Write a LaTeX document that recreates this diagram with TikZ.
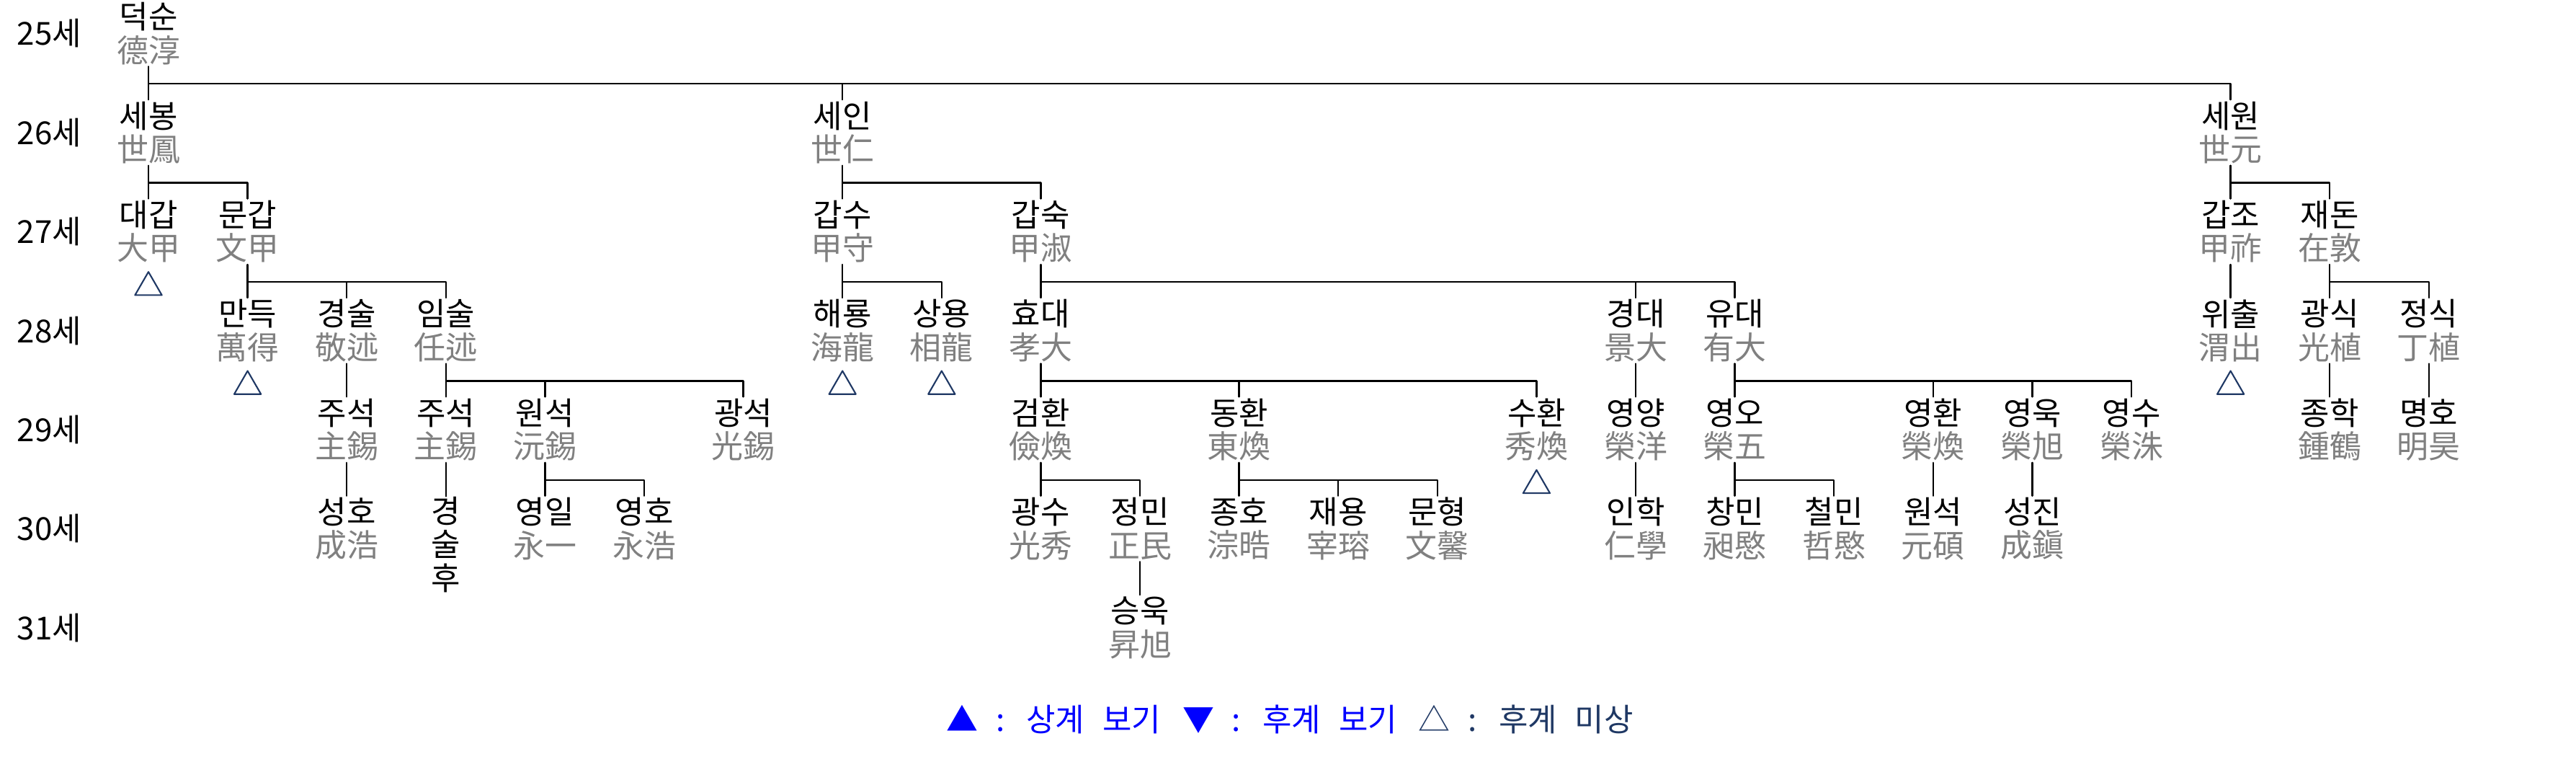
\documentclass[tikz,border=0pt]{standalone}
\usepackage{fontspec}
\setmainfont{Noto Sans CJK KR}
\usetikzlibrary{positioning,shapes.geometric}
\definecolor{hanjagray}{RGB}{128,128,128}
\definecolor{navy}{RGB}{31,56,100}
\definecolor{legendblue}{RGB}{0,0,255}
\newcommand{\hj}[1]{\textcolor{hanjagray}{#1}}
\def\barh{0.24cm}

\begin{document}
\begin{tikzpicture}[line join=round,line cap=round,x=1.376cm,y=-1.374cm,
	font=\fontsize{12.5pt}{13.2pt}\selectfont,
	person/.style={align=center,inner sep=0pt,minimum height=0.9cm},
	link/.style={line width=0.65pt,draw=black},
	tri/.style={draw=navy,line width=0.6pt,regular polygon,regular polygon sides=3,minimum size=0.43cm,inner sep=0pt}]
		\useasboundingbox (-2.06cm,0.465cm) rectangle (33.69cm,-10.345cm);
		% generations
		\node (gen25) at (-1,0) {25세};
		\node (gen26) at (-1,1) {26세};
		\node (gen27) at (-1,2) {27세};
		\node (gen28) at (-1,3) {28세};
		\node (gen29) at (-1,4) {29세};
		\node (gen30) at (-1,5) {30세};
		\node (gen31) at (-1,6) {31세};
		% 25
		\node[person] (deoksun) at (0,0) {덕순\\\hj{德淳}};
		% 26
		\node[person] (sebong) at (0,1) {세봉\\\hj{世鳳}};
		\node[person] (sein) at (7,1) {세인\\\hj{世仁}};
		\node[person] (sewon) at (21,1) {세원\\\hj{世元}};
		% 27
		\node[person] (daegap) at (0,2) {대갑\\\hj{大甲}};
		\node[person] (mungap) at (1,2) {문갑\\\hj{文甲}};
		\node[person] (gapsu) at (7,2) {갑수\\\hj{甲守}};
		\node[person] (gapsuk) at (9,2) {갑숙\\\hj{甲淑}};
		\node[person] (gapjo) at (21,2) {갑조\\\hj{甲祚}};
		\node[person] (jaedon) at (22,2) {재돈\\\hj{在敦}};
		% 28
		\node[person] (mandeuk) at (1,3) {만득\\\hj{萬得}};
		\node[person] (gyeongsul) at (2,3) {경술\\\hj{敬述}};
		\node[person] (imsul) at (3,3) {임술\\\hj{任述}};
		\node[person] (haeryong) at (7,3) {해룡\\\hj{海龍}};
		\node[person] (sangyong) at (8,3) {상용\\\hj{相龍}};
		\node[person] (hyodae) at (9,3) {효대\\\hj{孝大}};
		\node[person] (gyeongdae) at (15,3) {경대\\\hj{景大}};
		\node[person] (yudae) at (16,3) {유대\\\hj{有大}};
		\node[person] (wichul) at (21,3) {위출\\\hj{渭出}};
		\node[person] (gwangsik) at (22,3) {광식\\\hj{光植}};
		\node[person] (jeongsik) at (23,3) {정식\\\hj{丁植}};
		% 29
		\node[person] (juseokA) at (2,4) {주석\\\hj{主錫}};
		\node[person] (juseokB) at (3,4) {주석\\\hj{主錫}};
		\node[person] (wonseokA) at (4,4) {원석\\\hj{沅錫}};
		\node[person] (gwangseok) at (6,4) {광석\\\hj{光錫}};
		\node[person] (geomhwan) at (9,4) {검환\\\hj{儉煥}};
		\node[person] (donghwan) at (11,4) {동환\\\hj{東煥}};
		\node[person] (suhwan) at (14,4) {수환\\\hj{秀煥}};
		\node[person] (yeongyang) at (15,4) {영양\\\hj{榮洋}};
		\node[person] (yeongo) at (16,4) {영오\\\hj{榮五}};
		\node[person] (yeonghwan) at (18,4) {영환\\\hj{榮煥}};
		\node[person] (yeonguk) at (19,4) {영욱\\\hj{榮旭}};
		\node[person] (yeongsu) at (20,4) {영수\\\hj{榮洙}};
		\node[person] (jonghak) at (22,4) {종학\\\hj{鍾鶴}};
		\node[person] (myeongho) at (23,4) {명호\\\hj{明昊}};
		% 30
		\node[person] (seongho) at (2,5) {성호\\\hj{成浩}};
		\node[person,anchor=north,yshift=0.45cm] (gyeongsulhu) at (3,5) {경\\술\\후};
		\node[person] (yeongil) at (4,5) {영일\\\hj{永一}};
		\node[person] (yeongho) at (5,5) {영호\\\hj{永浩}};
		\node[person] (gwangsu) at (9,5) {광수\\\hj{光秀}};
		\node[person] (jeongmin) at (10,5) {정민\\\hj{正民}};
		\node[person] (jongho) at (11,5) {종호\\\hj{淙晧}};
		\node[person] (jaeyong) at (12,5) {재용\\\hj{宰瑢}};
		\node[person] (munhyeong) at (13,5) {문형\\\hj{文馨}};
		\node[person] (inhak) at (15,5) {인학\\\hj{仁學}};
		\node[person] (changmin) at (16,5) {창민\\\hj{昶愍}};
		\node[person] (cheolmin) at (17,5) {철민\\\hj{哲愍}};
		\node[person] (wonseokB) at (18,5) {원석\\\hj{元碩}};
		\node[person] (seongjin) at (19,5) {성진\\\hj{成鎭}};
		% 31
		\node[person] (seunguk) at (10,6) {승욱\\\hj{昇旭}};
		% no known heirs
		\node[tri,below=0.08cm of daegap] (daegapend) {};
		\node[tri,below=0.08cm of mandeuk] (mandeukend) {};
		\node[tri,below=0.08cm of haeryong] (haeryongend) {};
		\node[tri,below=0.08cm of sangyong] (sangyongend) {};
		\node[tri,below=0.08cm of suhwan] (suhwanend) {};
		\node[tri,below=0.08cm of wichul] (wichulend) {};
		% links, one path per parent
		\draw[link] (deoksun.south) -- ++(0,-\barh) -| (sebong.north)
			(deoksun.south) -- ++(0,-\barh) -| (sein.north)
			(deoksun.south) -- ++(0,-\barh) -| (sewon.north);
		\draw[link] (sebong.south) -- ++(0,-\barh) -| (daegap.north)
			(sebong.south) -- ++(0,-\barh) -| (mungap.north);
		\draw[link] (mungap.south) -- ++(0,-\barh) -| (mandeuk.north)
			(mungap.south) -- ++(0,-\barh) -| (gyeongsul.north)
			(mungap.south) -- ++(0,-\barh) -| (imsul.north);
		\draw[link] (gyeongsul.south) -- (juseokA.north);
		\draw[link] (imsul.south) -- ++(0,-\barh) -| (juseokB.north)
			(imsul.south) -- ++(0,-\barh) -| (wonseokA.north)
			(imsul.south) -- ++(0,-\barh) -| (gwangseok.north);
		\draw[link] (juseokA.south) -- (seongho.north);
		\draw[link] (juseokB.south) -- (gyeongsulhu.north);
		\draw[link] (wonseokA.south) -- ++(0,-\barh) -| (yeongil.north)
			(wonseokA.south) -- ++(0,-\barh) -| (yeongho.north);
		\draw[link] (sein.south) -- ++(0,-\barh) -| (gapsu.north)
			(sein.south) -- ++(0,-\barh) -| (gapsuk.north);
		\draw[link] (gapsu.south) -- ++(0,-\barh) -| (haeryong.north)
			(gapsu.south) -- ++(0,-\barh) -| (sangyong.north);
		\draw[link] (gapsuk.south) -- ++(0,-\barh) -| (hyodae.north)
			(gapsuk.south) -- ++(0,-\barh) -| (gyeongdae.north)
			(gapsuk.south) -- ++(0,-\barh) -| (yudae.north);
		\draw[link] (hyodae.south) -- ++(0,-\barh) -| (geomhwan.north)
			(hyodae.south) -- ++(0,-\barh) -| (donghwan.north)
			(hyodae.south) -- ++(0,-\barh) -| (suhwan.north);
		\draw[link] (geomhwan.south) -- ++(0,-\barh) -| (gwangsu.north)
			(geomhwan.south) -- ++(0,-\barh) -| (jeongmin.north);
		\draw[link] (jeongmin.south) -- (seunguk.north);
		\draw[link] (donghwan.south) -- ++(0,-\barh) -| (jongho.north)
			(donghwan.south) -- ++(0,-\barh) -| (jaeyong.north)
			(donghwan.south) -- ++(0,-\barh) -| (munhyeong.north);
		\draw[link] (gyeongdae.south) -- (yeongyang.north);
		\draw[link] (yeongyang.south) -- (inhak.north);
		\draw[link] (yudae.south) -- ++(0,-\barh) -| (yeongo.north)
			(yudae.south) -- ++(0,-\barh) -| (yeonghwan.north)
			(yudae.south) -- ++(0,-\barh) -| (yeonguk.north)
			(yudae.south) -- ++(0,-\barh) -| (yeongsu.north);
		\draw[link] (yeongo.south) -- ++(0,-\barh) -| (changmin.north)
			(yeongo.south) -- ++(0,-\barh) -| (cheolmin.north);
		\draw[link] (yeonghwan.south) -- (wonseokB.north);
		\draw[link] (yeonguk.south) -- (seongjin.north);
		\draw[link] (sewon.south) -- ++(0,-\barh) -| (gapjo.north)
			(sewon.south) -- ++(0,-\barh) -| (jaedon.north);
		\draw[link] (gapjo.south) -- (wichul.north);
		\draw[link] (jaedon.south) -- ++(0,-\barh) -| (gwangsik.north)
			(jaedon.south) -- ++(0,-\barh) -| (jeongsik.north);
		\draw[link] (gwangsik.south) -- (jonghak.north);
		\draw[link] (jeongsik.south) -- (myeongho.north);
		% legend
		\node (legend) at (15.84cm,-9.515cm) {\textcolor{legendblue}{▲\hspace{0.25cm}:\hspace{0.3cm}상계\hspace{0.25cm}보기\hspace{0.3cm}▼\hspace{0.25cm}:\hspace{0.3cm}후계\hspace{0.25cm}보기}\hspace{0.3cm}\textcolor{navy}{△\hspace{0.25cm}:\hspace{0.3cm}후계\hspace{0.25cm}미상}};
\end{tikzpicture}
\end{document}
